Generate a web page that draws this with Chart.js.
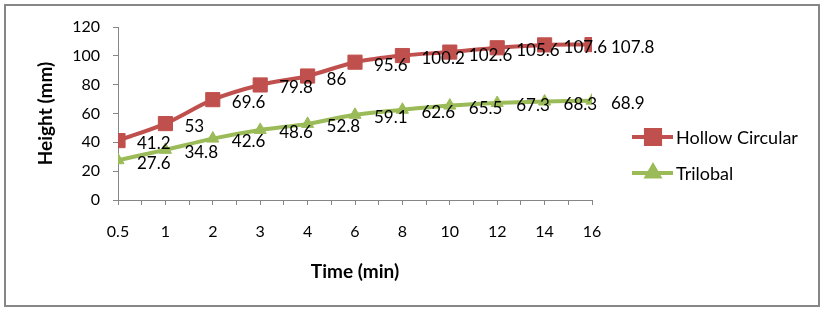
<!DOCTYPE html>
<html>
<head>
<meta charset="utf-8">
<script src="https://cdn.jsdelivr.net/npm/chart.js@4.4.0/dist/chart.umd.min.js"></script>
<style>
  html, body { margin: 0; padding: 0; background: #fff; }
  #wrap { width: 824px; height: 314px; }
</style>
</head>
<body>
<div id="wrap"><canvas id="heightChart" width="824" height="314"></canvas></div>
<script>
// time points (min), shown as evenly spaced categories
const timeLabels = ["0.5", "1", "2", "3", "4", "6", "8", "10", "12", "14", "16"];
const hollowCircular = [41.2, 53, 69.6, 79.8, 86, 95.6, 100.2, 102.6, 105.6, 107.6, 107.8];
const trilobal = [27.6, 34.8, 42.6, 48.6, 52.8, 59.1, 62.6, 65.5, 67.3, 68.3, 68.9];
const yTicks = [0, 20, 40, 60, 80, 100, 120];

const red = "#C0504D";
const green = "#9BBB59";
const axisGray = "#868686";
const fontFamily = "Lato, 'Open Sans', sans-serif";

const toPoints = (arr) => arr.map((v, i) => ({ x: i, y: v }));

// white background + outer frame
const framePlugin = {
  id: "frame",
  beforeDraw(chart) {
    const ctx = chart.ctx;
    ctx.save();
    ctx.fillStyle = "#fff";
    ctx.fillRect(0, 0, chart.width, chart.height);
    ctx.strokeStyle = axisGray;
    ctx.lineWidth = 2;
    ctx.strokeRect(5, 5, 814, 301);
    ctx.restore();
  }
};

// value labels to the right of every point
const valueLabels = {
  id: "valueLabels",
  afterDatasetsDraw(chart) {
    const ctx = chart.ctx;
    ctx.save();
    ctx.font = "17px " + fontFamily;
    ctx.fillStyle = "#000";
    ctx.textAlign = "left";
    ctx.textBaseline = "middle";
    chart.data.datasets.forEach((ds, di) => {
      const meta = chart.getDatasetMeta(di);
      meta.data.forEach((pt, i) => {
        ctx.fillText(String(ds.data[i].y), pt.x + 19, pt.y + 3);
      });
    });
    ctx.restore();
  }
};

// Excel-like legend at the right
const sideLegend = {
  id: "sideLegend",
  afterDraw(chart) {
    const ctx = chart.ctx;
    const rows = [137, 173];
    ctx.save();
    chart.data.datasets.forEach((ds, di) => {
      const y = rows[di];
      ctx.strokeStyle = ds.borderColor;
      ctx.lineWidth = 4;
      ctx.beginPath();
      ctx.moveTo(632, y);
      ctx.lineTo(673, y);
      ctx.stroke();
      Chart.helpers.drawPoint(ctx, {
        pointStyle: ds.pointStyle,
        radius: ds.pointRadius,
        borderWidth: 1
      }, 653, y);
      ctx.fillStyle = ds.pointBackgroundColor;
      ctx.fill();
      ctx.fillStyle = "#000";
      ctx.font = "18px " + fontFamily;
      ctx.textAlign = "left";
      ctx.textBaseline = "middle";
      ctx.fillText(ds.label, 676, y + 1);
    });
    ctx.restore();
  }
};

new Chart(document.getElementById("heightChart"), {
  type: "line",
  data: {
    datasets: [
      {
        label: "Hollow Circular",
        data: toPoints(hollowCircular),
        borderColor: red,
        backgroundColor: red,
        pointBackgroundColor: red,
        pointBorderColor: red,
        borderWidth: 4,
        pointStyle: "rect",
        pointRadius: 10,
        pointBorderWidth: 1,
        tension: 0.3
      },
      {
        label: "Trilobal",
        data: toPoints(trilobal),
        borderColor: green,
        backgroundColor: green,
        pointBackgroundColor: green,
        pointBorderColor: green,
        borderWidth: 4,
        pointStyle: "triangle",
        pointRadius: 7,
        pointBorderWidth: 1,
        tension: 0.3
      }
    ]
  },
  options: {
    responsive: false,
    animation: false,
    events: [],
    layout: { padding: { left: 0, right: 232, top: 27, bottom: 0 } },
    plugins: {
      legend: { display: false },
      tooltip: { enabled: false }
    },
    elements: { line: { borderCapStyle: "round" } },
    scales: {
      x: {
        type: "linear",
        min: 0,
        max: timeLabels.length - 1,
        afterFit(scale) { scale.height = 114; },
        afterBuildTicks(scale) {
          const t = [];
          for (let v = 0; v <= timeLabels.length - 1; v += 0.5) t.push({ value: v });
          scale.ticks = t;
        },
        ticks: {
          autoSkip: false,
          maxRotation: 0,
          padding: 17,
          color: "#000",
          font: { family: fontFamily, size: 16 },
          callback: (v) => Number.isInteger(v) ? timeLabels[v] : ""
        },
        grid: { drawOnChartArea: false, tickLength: 5, color: axisGray },
        border: { color: axisGray, width: 1 },
        title: {
          display: true,
          text: "Time (min)",
          color: "#000",
          font: { family: fontFamily, size: 19, weight: "bold" },
          padding: { top: 0, bottom: 31 }
        }
      },
      y: {
        min: 0,
        max: 120,
        afterFit(scale) { scale.width = 118; },
        afterBuildTicks(scale) {
          scale.ticks = yTicks.map((v) => ({ value: v }));
        },
        ticks: {
          padding: 13,
          color: "#000",
          font: { family: fontFamily, size: 16 }
        },
        grid: { drawOnChartArea: false, tickLength: 5, color: axisGray },
        border: { color: axisGray, width: 1 },
        title: {
          display: true,
          text: "Height (mm)",
          color: "#000",
          font: { family: fontFamily, size: 19, weight: "bold" },
          padding: { top: 34, bottom: 0 }
        }
      }
    }
  },
  plugins: [framePlugin, valueLabels, sideLegend]
});
</script>
</body>
</html>
